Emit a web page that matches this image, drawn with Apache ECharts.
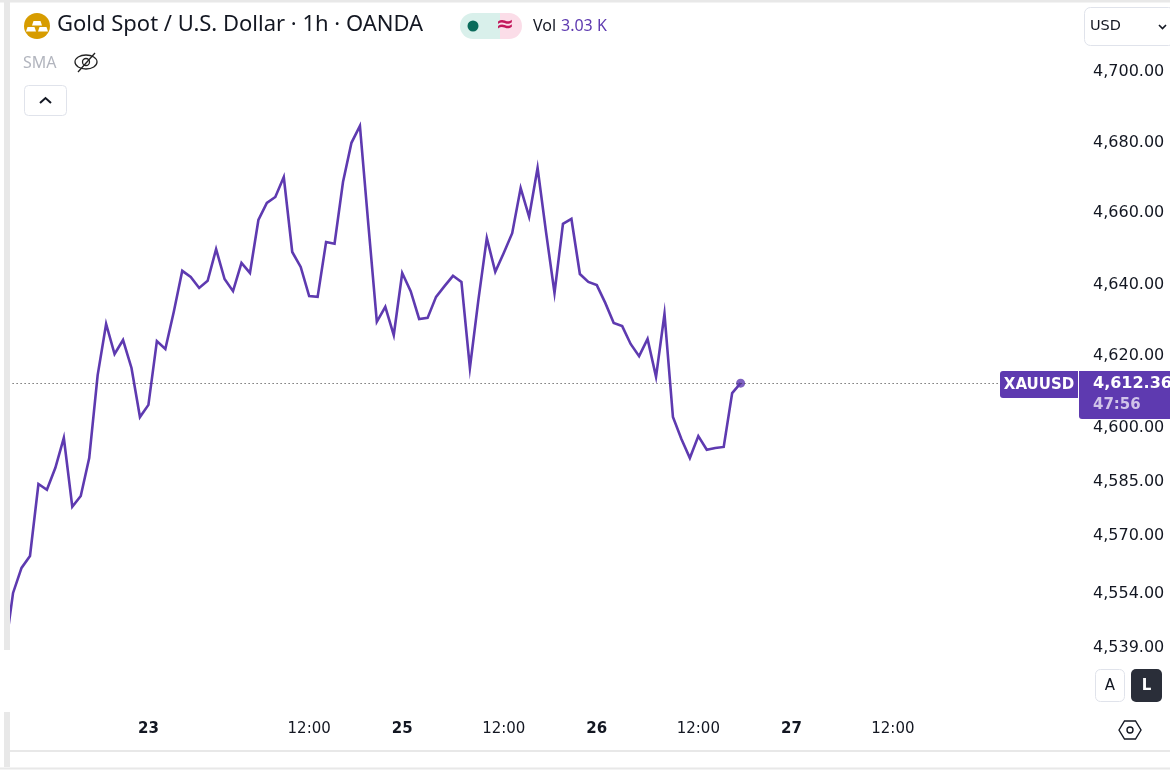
<!DOCTYPE html>
<html><head><meta charset="utf-8"><style>html,body{margin:0;padding:0;background:#fff}#c{width:1170px;height:783px}</style>
<script src="https://cdn.jsdelivr.net/npm/echarts@6/dist/echarts.min.js"></script></head>
<body><div id="c"></div><script>
const prices=[4537.2,4554.2,4561.1,4564.4,4584.3,4582.7,4588.8,4597.1,4578.0,4581.0,4591.5,4614.6,4628.9,4620.5,4624.4,4616.6,4602.9,4606.3,4624.1,4621.9,4632.3,4643.8,4642.1,4639.0,4641.0,4649.9,4641.5,4638.1,4646.0,4643.2,4658.1,4662.9,4664.6,4670.2,4649.1,4644.9,4636.7,4636.5,4651.9,4651.4,4668.8,4679.9,4684.7,4656.7,4629.5,4633.7,4625.8,4643.2,4638.1,4630.3,4630.6,4636.5,4639.5,4642.4,4640.7,4616.6,4635.6,4653.0,4643.5,4648.8,4654.4,4667.1,4659.0,4672.8,4654.7,4637.6,4657.0,4658.4,4642.9,4640.7,4639.8,4634.8,4629.2,4628.3,4623.3,4619.9,4624.7,4614.1,4631.7,4602.9,4596.8,4591.5,4597.6,4593.8,4594.3,4594.6,4609.6,4612.36];
const lastPrice=4612.36;
const barCount=128;
const xTickBars=[1,17,36,47,59,70,82,93,105,116];
const xTickTexts=['21','23','12:00','25','12:00','26','12:00','27','12:00','28'];
const yTicks=[4539,4554,4570,4585,4600,4620,4640,4660,4680,4700];
const waveTexts=['A','a','b','B','c','C','1','2','3','4','5'];
const waveBars=[45.56,46.97,55.0,62.8,63.05,80.3,64.2,66.8,76.5,77.1,80.2];
const wavePrices=[4622.2,4647.7,4609.6,4688.1,4680.1,4581.0,4632.5,4667.1,4610.5,4639.0,4588.2];

const UI='"DejaVu Sans"', TITLE='"Noto Sans"', WAVE='"Liberation Sans Narrow","Roboto"';
const PURPLE='#5e3ab0', BLUE='#4a52c6', RED='#e2323a', CHROME='#e8e8e8';
const isDay=t=>!t.includes(':');
const cats=Array.from({length:barCount},(_,i)=>{const k=xTickBars.indexOf(i);return k>=0?xTickTexts[k]:'b'+i;});
const t=(x,y,text,fontSize,fill,o={})=>({type:'text',z:200,x,y,style:Object.assign({text,fontSize,fill,fontFamily:UI,verticalAlign:'middle',align:'left'},o)});
const r=(x,y,w,h,fill,o={},rad=0)=>({type:'rect',z:o.z||150,shape:{x,y,width:w,height:h,r:rad},style:{fill,stroke:o.stroke,lineWidth:o.lw||1}});
const graphic=[
 r(0,0,10,650,'#fff',{z:120}),r(0,650,10,60,'#fff',{z:120}),
 r(0,710,10,57,'#fff',{z:120}),
 r(4,0,6,650,CHROME),r(4,712,6,55,CHROME),
 r(0,0,1170,2.5,CHROME),
 r(5,750,1165,2,CHROME),r(0,767.5,1170,2,CHROME),
 {type:'circle',z:160,shape:{cx:37,cy:26,r:13},style:{fill:'#d79c00'}},
 {type:'polygon',z:161,shape:{points:[[33.5,21],[40.5,21],[42,25.5],[32,25.5]]},style:{fill:'#fff'}},
 {type:'polygon',z:161,shape:{points:[[27.5,27],[34.5,27],[36,31.5],[26,31.5]]},style:{fill:'#fff'}},
 {type:'polygon',z:161,shape:{points:[[39.5,27],[46.5,27],[48,31.5],[38,31.5]]},style:{fill:'#fff'}},
 t(57,25,'Gold Spot / U.S. Dollar · 1h · OANDA',22,'#131722',{fontFamily:TITLE}),
 r(460,13,40,26,'#d9f0eb',{},[13,0,0,13]),r(500,13,22,26,'#fbdde8',{},[0,13,13,0]),
 {type:'circle',z:160,shape:{cx:473,cy:26,r:5.5},style:{fill:'#0b6b5b'}},
 t(505,25,'≈',22,'#c2185b',{align:'center',fontWeight:'bold'}),
 t(533,26,'Vol',16,'#131722',{fontFamily:TITLE}),
 t(561,26,'3.03 K',16,'#5e3ab0',{fontFamily:TITLE}),
 t(23,63,'SMA',16,'#b2b5be',{fontFamily:TITLE}),
 {type:'ellipse',z:160,shape:{cx:86,cy:62,rx:11,ry:7},style:{fill:'none',stroke:'#222',lineWidth:1.3}},
 {type:'circle',z:160,shape:{cx:86,cy:62,r:3.5},style:{fill:'none',stroke:'#222',lineWidth:1.3}},
 {type:'line',z:160,shape:{x1:78,y1:72,x2:95,y2:53},style:{stroke:'#222',lineWidth:1.3}},
 r(24.5,85.5,42,30,'#fff',{stroke:'#e0e3eb'},4),
 {type:'polyline',z:160,shape:{points:[[40,103],[45.5,98],[51,103]]},style:{fill:'none',stroke:'#131722',lineWidth:2}},
 r(1084.5,7.5,90,38,'#fff',{stroke:'#e0e3eb'},6),
 t(1090,26,'USD',14.5,'#131722'),
 {type:'polyline',z:160,shape:{points:[[1159,25],[1162.5,28.5],[1166,25]]},style:{fill:'none',stroke:'#131722',lineWidth:1.6}},
 r(1000,371,78,27,PURPLE,{},[3,0,0,3]),
 t(1039,385,'XAUUSD',15,'#fff',{align:'center',fontWeight:'bold'}),
 r(1079,371,91,48,PURPLE,{},[0,0,0,3]),
 t(1093,384,'4,612.36',16,'#fff',{fontWeight:'bold'}),
 t(1093,405,'47:56',15,'#d1c4e9',{fontWeight:'bold'}),
 r(1095.5,669.5,29,32,'#fff',{stroke:'#e0e3eb'},5),
 t(1110,686,'A',15,'#131722',{align:'center'}),
 r(1131,669,31,33,'#2a2e39',{},5),
 t(1146.5,686,'L',15,'#fff',{align:'center',fontWeight:'bold'}),
 {type:'polygon',z:160,shape:{points:[[1119,730],[1124.5,721],[1135.5,721],[1141,730],[1135.5,739],[1124.5,739]]},style:{fill:'none',stroke:'#131722',lineWidth:1.4}},
 {type:'circle',z:160,shape:{cx:1130,cy:730,r:3},style:{fill:'none',stroke:'#131722',lineWidth:1.4}},
];
const chart=echarts.init(document.getElementById('c'),null,{renderer:'canvas'});
chart.setOption({
 animation:false,backgroundColor:'#fff',
 grid:{left:4.6,width:8.46*(barCount-1),top:0,height:700},
 xAxis:[{type:'category',boundaryGap:false,data:cats,axisLine:{show:false},axisTick:{show:false},splitLine:{show:false},
   axisLabel:{margin:22,interval:(i)=>xTickBars.includes(i),showMinLabel:false,showMaxLabel:false,hideOverlap:false,
     formatter:v=>isDay(v)?'{d|'+v+'}':'{h|'+v+'}',
     rich:{d:{fontFamily:UI,fontSize:15,fontWeight:'bold',color:'#131722'},h:{fontFamily:UI,fontSize:15,color:'#131722'}}}},
  {type:'value',show:false,min:0,max:barCount-1,splitLine:{show:false}}],
 yAxis:{type:'log',position:'right',min:4524.8,max:4720.5,axisLine:{show:false},axisTick:{show:false},splitLine:{show:false},
   axisLabel:{customValues:yTicks,margin:14,align:'left',fontFamily:UI,fontSize:16,color:'#131722',
     formatter:v=>Number(v).toLocaleString('en-US',{minimumFractionDigits:2,maximumFractionDigits:2})}},
 series:[
  {type:'line',xAxisIndex:0,data:prices,showSymbol:false,silent:true,lineStyle:{color:PURPLE,width:2.6,join:'miter'},
   markLine:{silent:true,symbol:'none',label:{show:false},lineStyle:{color:'#333',width:1,type:[1,3]},data:[{yAxis:lastPrice}]}},
  {type:'scatter',xAxisIndex:1,data:[[prices.length-1,lastPrice]],symbolSize:9,itemStyle:{color:PURPLE},silent:true},
  {type:'scatter',xAxisIndex:1,symbolSize:1,itemStyle:{opacity:0},silent:true,
   data:waveTexts.map((s,i)=>{const big=/[ABCabc]/.test(s);return {value:[waveBars[i],wavePrices[i]],
     label:{show:true,position:'inside',formatter:s,fontFamily:WAVE,fontSize:big?(s===s.toUpperCase()?28:25):17,color:big?BLUE:RED}};})}
 ],
 graphic:{elements:graphic}
});
</script></body></html>
